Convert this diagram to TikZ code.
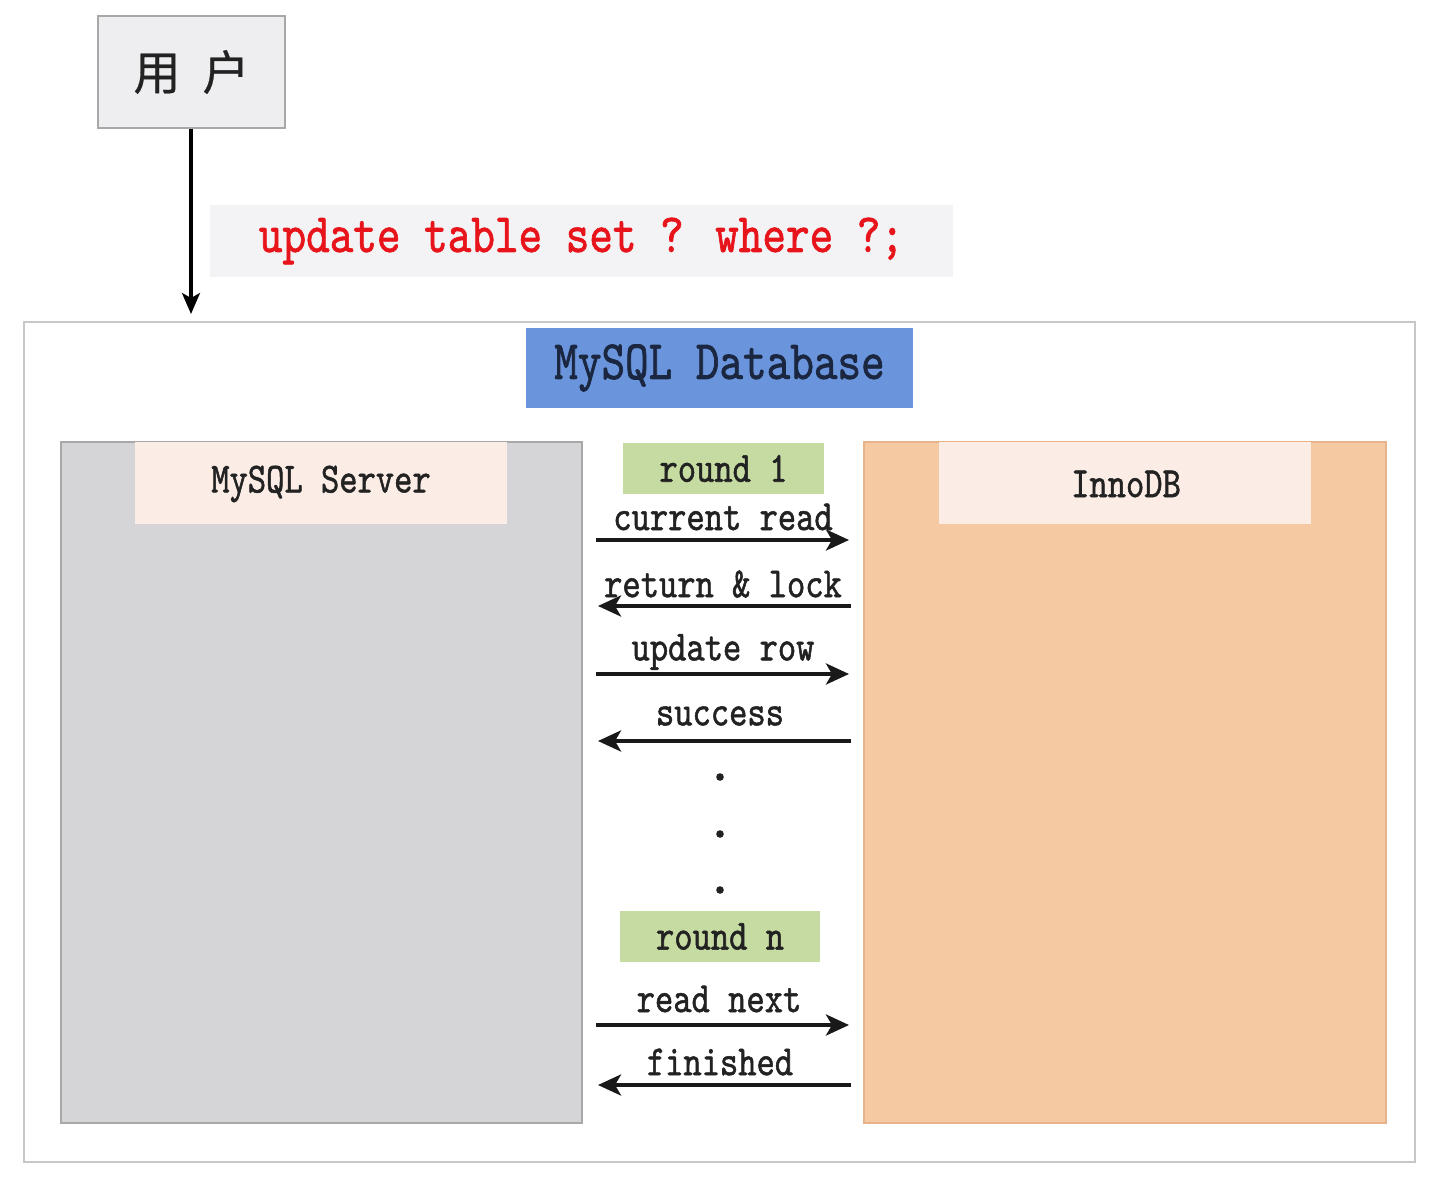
\documentclass[tikz,border=0pt]{standalone}
\usepackage{fontspec}
\usetikzlibrary{arrows.meta}
\newfontfamily\monof{lmmono10-regular.otf}[FakeStretch=0.81,FakeBold=1.2]
\newfontfamily\cjkf{Noto Sans CJK SC}[FakeBold=0.6]
\definecolor{boxgray}{HTML}{EEEEF0}
\definecolor{codebg}{HTML}{F3F3F5}
\definecolor{codered}{HTML}{E8141C}
\definecolor{dbblue}{HTML}{6A95DC}
\definecolor{dbtext}{HTML}{1B2740}
\definecolor{srvgray}{HTML}{D5D5D7}
\definecolor{srvedge}{HTML}{A8A8A8}
\definecolor{hdrpeach}{HTML}{FBEDE5}
\definecolor{innofill}{HTML}{F5C9A1}
\definecolor{innoedge}{HTML}{E6B38A}
\definecolor{rgreen}{HTML}{C6DBA2}
\definecolor{txtdark}{HTML}{222222}
\tikzset{
  rect/.style={rectangle, inner sep=0pt, anchor=center},
  bigtxt/.style={font=\monof\fontsize{55.5}{56}\selectfont},
  lbl/.style={font=\monof\fontsize{43}{43}\selectfont, text=txtdark, inner sep=0pt, anchor=center},
  flow/.style={line width=4pt, draw=black!90, -{Stealth[length=23pt,width=21pt,inset=6pt]}},
}
\begin{document}
\begin{tikzpicture}[x=1pt,y=-1pt]
\useasboundingbox (0,0) rectangle (1440,1180);
% user
\node[rect, draw=srvedge, line width=1.5pt, fill=boxgray, minimum width=187pt, minimum height=112pt,
      font=\cjkf\fontsize{47}{47}\selectfont, text=txtdark] (user) at (191.5,72) {用\hspace{22pt}户};
% sql statement
\node[rect, fill=codebg, minimum width=743pt, minimum height=72pt] (code) at (581.5,241)
  {\textcolor{codered}{\monof\fontsize{55.5}{56}\selectfont update table set ? where ?;}};
% database container
\node[rect, draw=black!22, line width=1.5pt, fill=white, minimum width=1391pt, minimum height=840pt] (db) at (719.5,742) {};
\coordinate (dbtop) at (191,314);
\draw[line width=3.2pt, -{Stealth[length=21pt,width=18pt,inset=5pt]}] (user.south -| dbtop) -- (dbtop);
\node[rect, fill=dbblue, minimum width=387pt, minimum height=80pt, bigtxt, text=dbtext] (dbtitle) at (719.5,368) {MySQL Database};
% server
\node[rect, draw=srvedge, line width=1.5pt, fill=srvgray, minimum width=521pt, minimum height=681pt] (server) at (321.5,782.5) {};
\node[rect, fill=hdrpeach, minimum width=372pt, minimum height=82pt] (serverhdr) at (321,483) {};
\node[lbl] (servertxt) at (321,484) {MySQL Server};
% innodb
\node[rect, draw=innoedge, line width=1.5pt, fill=innofill, minimum width=522pt, minimum height=681pt] (inno) at (1125,782.5) {};
\node[rect, fill=hdrpeach, minimum width=372pt, minimum height=82pt] (innohdr) at (1125,483) {};
\node[lbl] (innotxt) at (1126,484) {InnoDB};
% round 1
\node[rect, fill=rgreen, minimum width=201pt, minimum height=51pt] (r1) at (723.5,468.5) {};
\node[lbl] (r1t) at (723.5,468.5) {round 1};
\node[lbl] (l1) at (723,517) {current read};
\coordinate (a1s) at (596,540); \coordinate (a1e) at (849,540);
\draw[flow] (a1s) -- (a1e);
\node[lbl] (l2) at (723,584) {return \& lock};
\coordinate (a2s) at (851,606); \coordinate (a2e) at (598,606);
\draw[flow] (a2s) -- (a2e);
\node[lbl] (l3) at (723,652) {update row};
\coordinate (a3s) at (596,674); \coordinate (a3e) at (849,674);
\draw[flow] (a3s) -- (a3e);
\node[lbl] (l4) at (720,716) {success};
\coordinate (a4s) at (851,741); \coordinate (a4e) at (598,741);
\draw[flow] (a4s) -- (a4e);
% dots
\fill[txtdark] (720,777) circle (3.8pt);
\fill[txtdark] (720,834) circle (3.8pt);
\fill[txtdark] (720,890) circle (3.8pt);
% round n
\node[rect, fill=rgreen, minimum width=200pt, minimum height=51pt] (rn) at (720,936.5) {};
\node[lbl] (rnt) at (720,936.5) {round n};
\node[lbl] (l5) at (719,999) {read next};
\coordinate (a5s) at (596,1025); \coordinate (a5e) at (849,1025);
\draw[flow] (a5s) -- (a5e);
\node[lbl] (l6) at (720,1062) {finished};
\coordinate (a6s) at (851,1085); \coordinate (a6e) at (598,1085);
\draw[flow] (a6s) -- (a6e);
\end{tikzpicture}
\end{document}
